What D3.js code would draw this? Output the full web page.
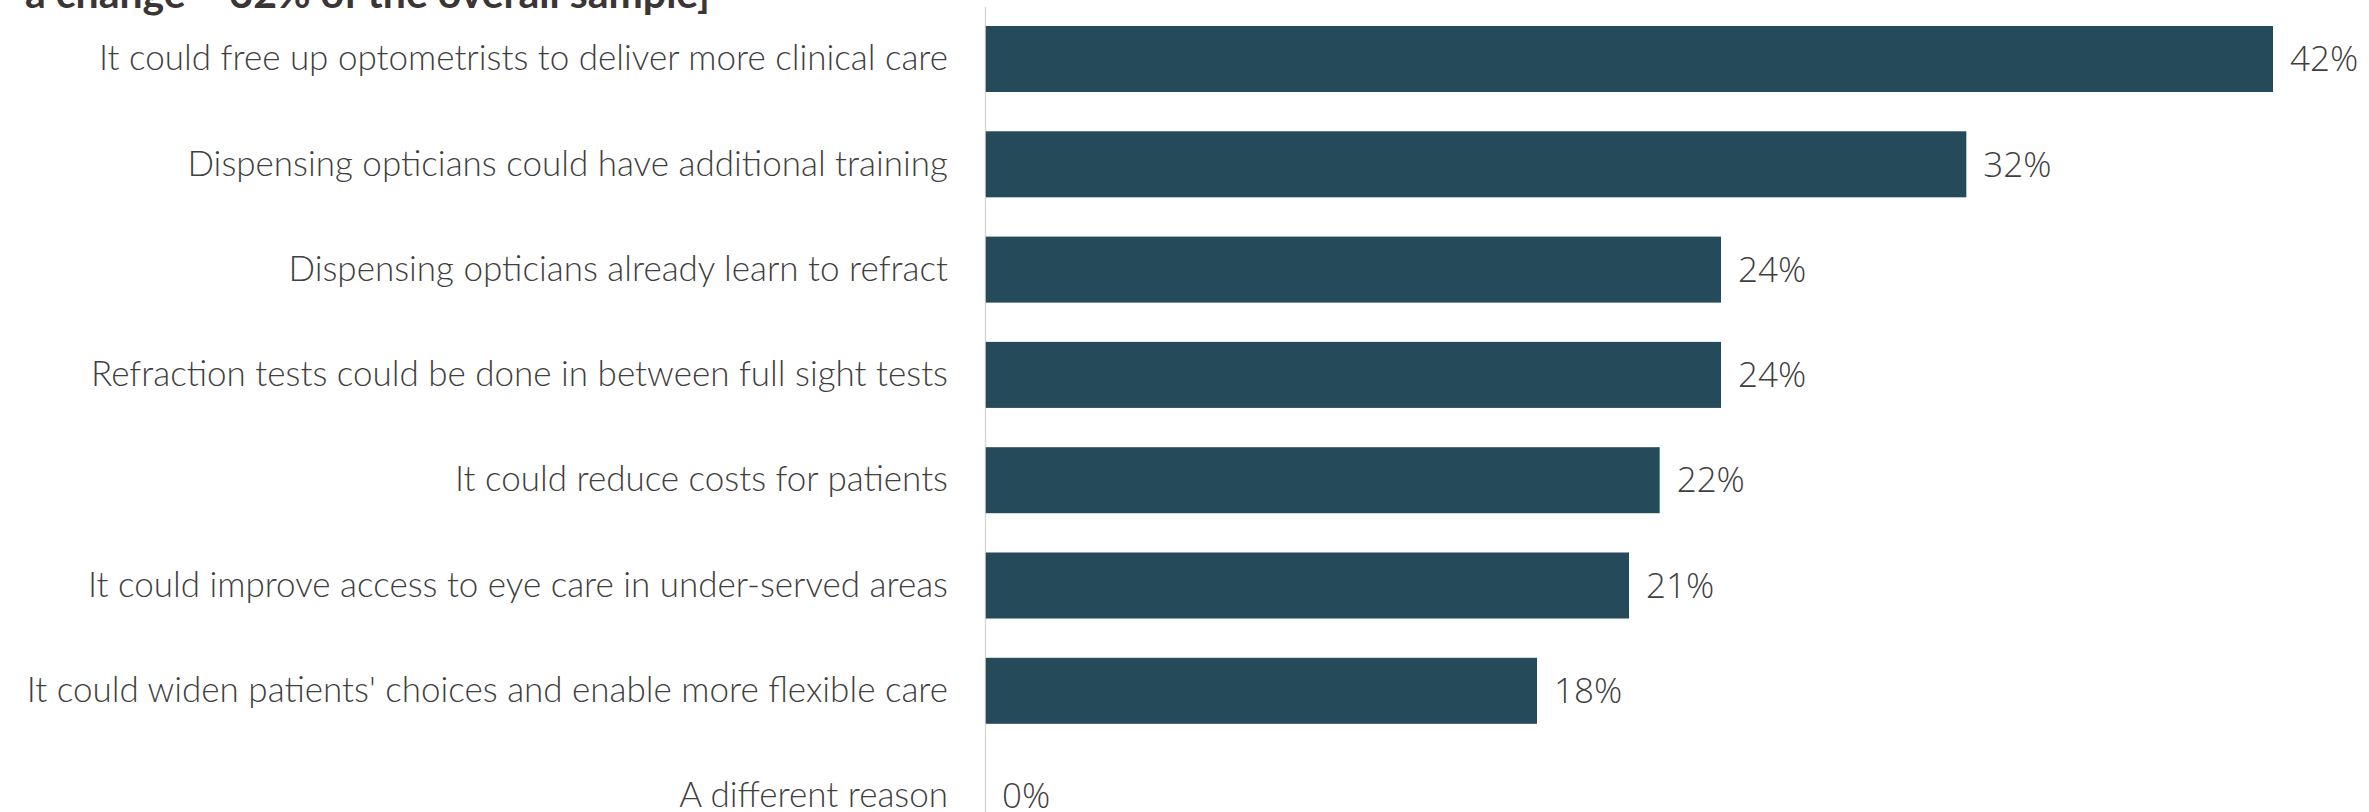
<!DOCTYPE html>
<html>
<head>
<meta charset="utf-8">
<script src="https://cdn.jsdelivr.net/npm/d3@7"></script>
<style>
  html, body { margin: 0; padding: 0; background: #fff; overflow: hidden; }
  svg { display: block; }
</style>
</head>
<body>
<script>
const reasons = [
  "It could free up optometrists to deliver more clinical care",
  "Dispensing opticians could have additional training",
  "Dispensing opticians already learn to refract",
  "Refraction tests could be done in between full sight tests",
  "It could reduce costs for patients",
  "It could improve access to eye care in under-served areas",
  "It could widen patients' choices and enable more flexible care",
  "A different reason"
];
const shares = [42, 32, 24, 24, 22, 21, 18, 0];
const titleText = "a change \u2013 32% of the overall sample]";

const width = 2369;
const height = 812;
const left = 985;

const data = reasons.map((r, i) => ({ reason: r, value: shares[i] }));

const svg = d3.select("body")
  .append("svg")
  .attr("width", width)
  .attr("height", height);

// title, mostly cut off by the top edge
svg.append("text")
  .attr("x", 25)
  .attr("y", 8)
  .style("font-family", "Lato, sans-serif")
  .style("font-weight", "700")
  .style("font-size", "41px")
  .style("fill", "#3b3536")
  .text(titleText);

const xScale = d3.scaleLinear()
  .domain([0, d3.max(shares)])
  .range([left, 2273]);

const yScale = d3.scaleBand()
  .domain(reasons)
  .range([6.35, 848.75])
  .paddingInner(0.373)
  .paddingOuter(0.1865);

const yAxis = svg.append("g")
  .attr("transform", `translate(${left},0)`)
  .call(d3.axisLeft(yScale).tickSize(0).tickSizeOuter(0).tickPadding(37));

yAxis.select(".domain")
  .attr("stroke", "#d9d9d9")
  .attr("stroke-width", 1.5);

yAxis.selectAll(".tick text")
  .style("font-family", "Lato, sans-serif")
  .style("font-weight", "300")
  .style("font-size", "35px")
  .style("fill", "#3f3f3f");

svg.append("g")
  .selectAll("rect")
  .data(data.filter(d => d.value > 0))
  .enter()
  .append("rect")
  .attr("x", xScale(0) + 0.75)
  .attr("y", d => yScale(d.reason))
  .attr("width", d => xScale(d.value) - xScale(0) - 0.75)
  .attr("height", yScale.bandwidth())
  .style("fill", "#254b5a");

svg.append("g")
  .selectAll("text")
  .data(data)
  .enter()
  .append("text")
  .attr("x", d => xScale(d.value) + 17)
  .attr("y", d => yScale(d.reason) + yScale.bandwidth() / 2)
  .attr("dy", "0.35em")
  .style("font-family", "'Open Sans', sans-serif")
  .style("font-weight", "300")
  .style("font-size", "35px")
  .style("fill", "#3f3f3f")
  .text(d => d.value + "%");
</script>
</body>
</html>
